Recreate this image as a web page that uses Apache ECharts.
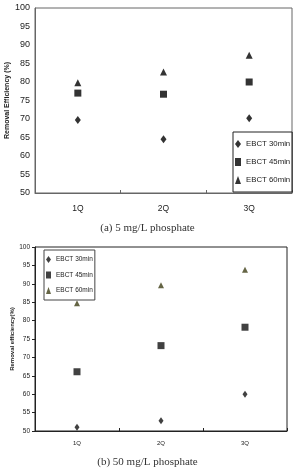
<!DOCTYPE html>
<html><head><meta charset="utf-8">
<script src="https://cdn.jsdelivr.net/npm/echarts@6/dist/echarts.min.js"></script>
<style>html,body{margin:0;padding:0;background:#fff}#c{width:295px;height:468px}</style>
</head><body><div id="c"></div>
<script>
var categories = ['1Q', '2Q', '3Q'];
var yTicks = [50, 55, 60, 65, 70, 75, 80, 85, 90, 95, 100];
var seriesNames = ['EBCT 30min', 'EBCT 45min', 'EBCT 60min'];
// (a) 5 mg/L phosphate
var a30 = [69.7, 64.5, 70.2];
var a45 = [77.0, 76.7, 80.0];
var a60 = [79.8, 82.7, 87.2];
// (b) 50 mg/L phosphate
var b30 = [51.0, 52.8, 60.0];
var b45 = [66.1, 73.2, 78.2];
var b60 = [84.7, 89.6, 93.8];
var captionA = '(a) 5 mg/L phosphate';
var captionB = '(b) 50 mg/L phosphate';

var symbols = ['diamond', 'rect', 'triangle'];
var sizesA = [[6, 8], 7, 7];
var sizesB = [[5, 7], 7, 6];
var colorsB = ['#111', '#111', '#3f3f17'];

var chart = echarts.init(document.getElementById('c'), null, {renderer: 'canvas'});
var dataA = [a30, a45, a60], dataB = [b30, b45, b60];
var series = [];
for (var i = 0; i < 3; i++) {
  series.push({type: 'scatter', name: seriesNames[i], xAxisIndex: 0, yAxisIndex: 0,
    symbol: symbols[i], symbolSize: sizesA[i], itemStyle: {color: '#000'}, data: dataA[i]});
}
for (var i = 0; i < 3; i++) {
  series.push({type: 'scatter', name: seriesNames[i] + ' ', xAxisIndex: 1, yAxisIndex: 1,
    symbol: symbols[i], symbolSize: sizesB[i], itemStyle: {color: colorsB[i]}, data: dataB[i]});
}
function yAxis(gi, fs, name, nameFs, gap, ticks, lc) {
  return {type: 'value', gridIndex: gi, min: 50, max: 100, interval: 5,
    axisLine: {show: true, lineStyle: {color: lc, width: 1}},
    axisTick: {show: ticks, length: 3, lineStyle: {color: lc}},
    splitLine: {show: false},
    axisLabel: {fontSize: fs, color: '#222', margin: 5, fontFamily: 'Liberation Sans'},
    name: name, nameLocation: 'middle', nameRotate: 90, nameGap: gap, nameMoveOverlap: false,
    nameTextStyle: {fontSize: nameFs, fontWeight: 'bold', color: '#222', fontFamily: 'Liberation Sans'}};
}
function xAxis(gi, fs, margin, lc) {
  return {type: 'category', gridIndex: gi, data: categories, boundaryGap: true,
    axisLine: {show: true, lineStyle: {color: lc, width: 1}},
    axisTick: {show: true, inside: true, length: 3, lineStyle: {color: lc}},
    axisLabel: {fontSize: fs, color: '#222', margin: margin, fontFamily: 'Liberation Sans'}};
}
chart.setOption({
  animation: false,
  title: [
    {text: captionA, left: 'center', top: 218, textStyle: {fontFamily: 'Liberation Serif', fontSize: 11, fontWeight: 'normal', color: '#333'}},
    {text: captionB, left: 'center', top: 452, textStyle: {fontFamily: 'Liberation Serif', fontSize: 11, fontWeight: 'normal', color: '#333'}}
  ],
  grid: [
    {left: 35, top: 8, width: 257, height: 185, show: true, borderColor: '#666', borderWidth: 1, backgroundColor: 'transparent', containLabel: false, outerBoundsMode: 'none'},
    {left: 35, top: 247, width: 252, height: 184, show: true, borderColor: '#222', borderWidth: 1, backgroundColor: 'transparent', containLabel: false, outerBoundsMode: 'none'}
  ],
  xAxis: [xAxis(0, 8.5, 11, '#666'), xAxis(1, 6, 9, '#222')],
  yAxis: [yAxis(0, 9, 'Removal Efficiency (%)', 7, 24, false, '#666'),
          yAxis(1, 6.5, 'Removal efficiency(%)', 6, 20, true, '#222')],
  legend: [
    {data: seriesNames, orient: 'vertical', left: 233, top: 132,
     padding: [8, 2, 8, 2], itemGap: 10, itemWidth: 6, itemHeight: 8,
     borderColor: '#222', borderWidth: 1, selectedMode: false,
     textStyle: {fontSize: 7.8, color: '#222', fontFamily: 'Liberation Sans'},
     formatter: function (n) { return n.trim(); }},
    {data: seriesNames.map(function (n) { return n + ' '; }), orient: 'vertical', left: 44, top: 250,
     padding: [6, 2, 6, 2], itemGap: 8.5, itemWidth: 5, itemHeight: 7,
     borderColor: '#444', borderWidth: 1, selectedMode: false,
     textStyle: {fontSize: 6.5, color: '#222', fontFamily: 'Liberation Sans'},
     formatter: function (n) { return n.trim(); }}
  ],
  series: series
});
</script></body></html>
